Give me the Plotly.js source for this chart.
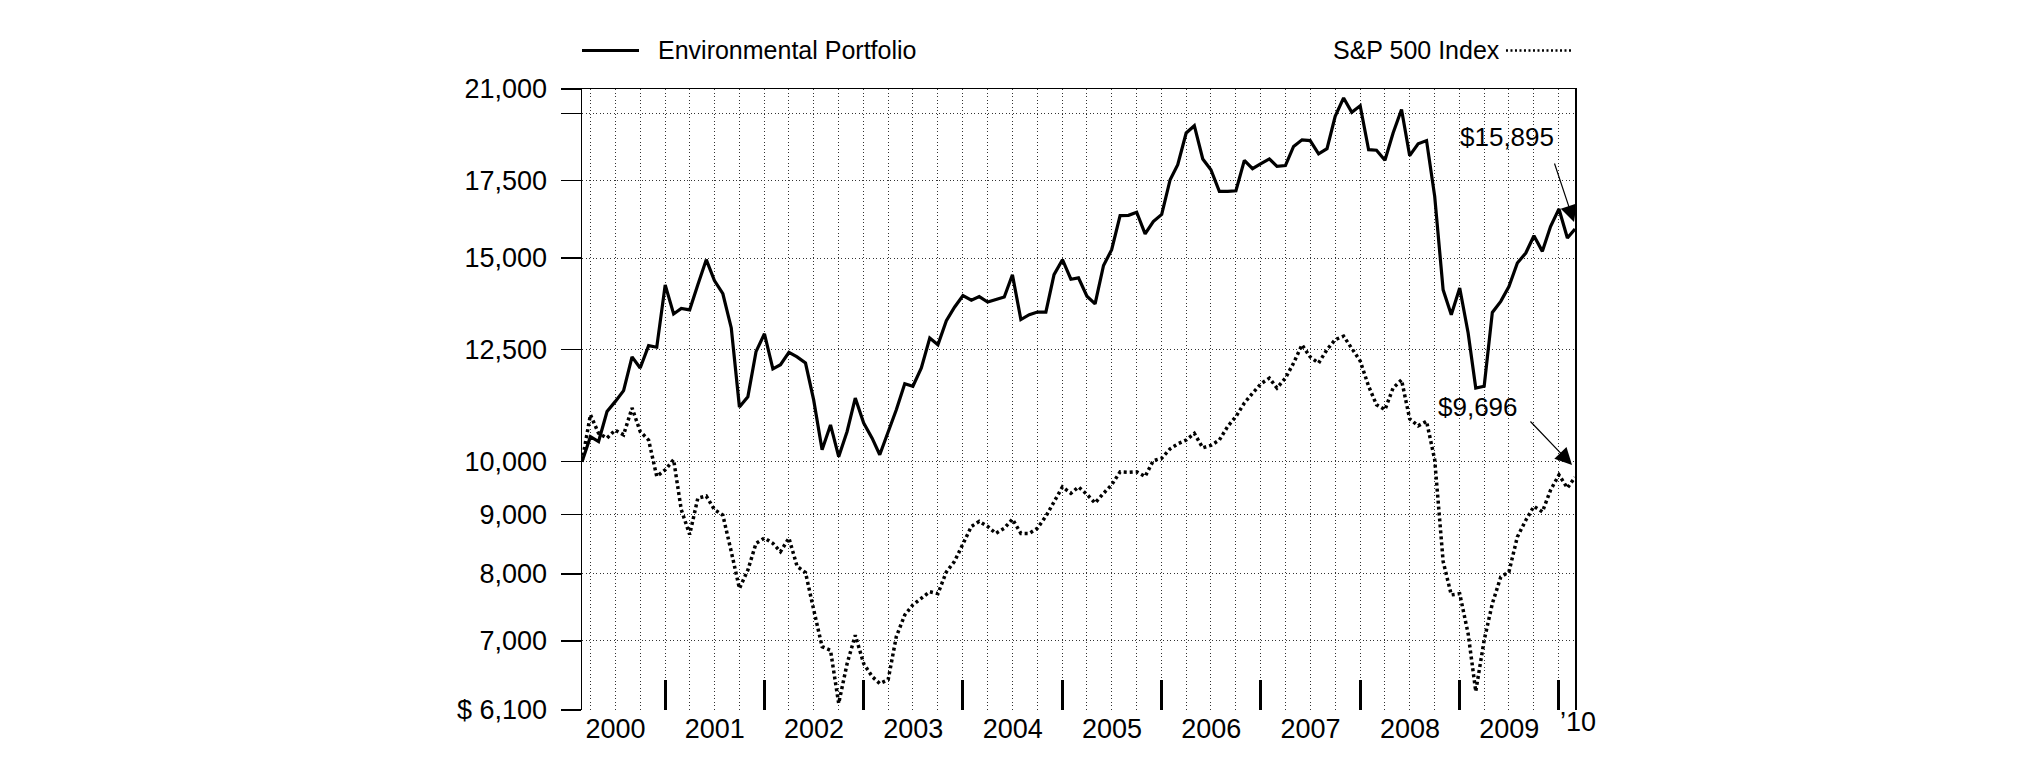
<!DOCTYPE html>
<html>
<head>
<meta charset="utf-8">
<script src="https://cdn.plot.ly/plotly-3.0.1.min.js"></script>
<style>
  html, body { margin: 0; padding: 0; background: #fff; }
  #chart { width: 2025px; height: 761px; }
</style>
</head>
<body>
<div id="chart"></div>
<script>
// ---- Data (monthly, end of Feb 2000 through end of Feb 2010) ----
const startYear = 2000;
const startMonth = 2; // February (month-end values)

const envPortfolio = [
  10000, 10510, 10410, 11050, 11270, 11520, 12320, 12050, 12600, 12560,
  14220, 13420, 13570, 13530, 14220, 14950, 14340, 13970, 13050, 11150,
  11380, 12450, 12900, 12030, 12130, 12430, 12320, 12170, 11310, 10240,
  10760, 10100, 10620, 11350, 10800, 10480, 10140, 10620, 11090, 11680,
  11620, 12050, 12790, 12620, 13240, 13600, 13920, 13790, 13890, 13740,
  13800, 13880, 14510, 13270, 13400, 13470, 13470, 14510, 14950, 14380,
  14420, 13900, 13690, 14780, 15250, 16320, 16330, 16430, 15740, 16130,
  16360, 17530, 18060, 19240, 19520, 18270, 17880, 17130, 17130, 17150,
  18220, 17920, 18100, 18270, 18000, 18030, 18730, 18980, 18950, 18460,
  18650, 19890, 20630, 20050, 20310, 18610, 18590, 18220, 19240, 20160,
  18390, 18830, 18950, 16960, 14080, 13400, 14130, 12920, 11580, 11620,
  13460, 13760, 14170, 14850, 15150, 15680, 15200, 15970, 16540, 15610,
  15895
];

const sp500Index = [
  10000, 10980, 10580, 10480, 10650, 10550, 11130, 10620, 10440, 9710,
  9840, 10040, 9090, 8650, 9300, 9340, 9090, 8990, 8360, 7770,
  8060, 8500, 8590, 8500, 8360, 8590, 8120, 8020, 7450, 6920,
  6870, 6180, 6690, 7080, 6690, 6520, 6430, 6480, 7060, 7370,
  7520, 7620, 7720, 7690, 8030, 8200, 8500, 8790, 8880, 8790,
  8670, 8760, 8920, 8670, 8670, 8760, 8970, 9240, 9510, 9390,
  9510, 9370, 9210, 9390, 9550, 9800, 9790, 9800, 9710, 10020,
  10070, 10260, 10360, 10440, 10580, 10280, 10330, 10440, 10730, 10940,
  11240, 11460, 11680, 11810, 11580, 11810, 12170, 12620, 12320, 12170,
  12500, 12750, 12840, 12530, 12220, 11620, 11200, 11090, 11580, 11770,
  10890, 10740, 10840, 10040, 8200, 7670, 7690, 7100, 6330, 7010,
  7540, 7950, 8030, 8610, 8900, 9150, 9050, 9450, 9740, 9490,
  9696
];

const yTickVals   = [6100, 7000, 8000, 9000, 10000, 12500, 15000, 17500, 20000, 21000];
const yTickText   = ['$ 6,100', '7,000', '8,000', '9,000', '10,000', '12,500', '15,000', '17,500', '', '21,000'];
const yGridVals   = [7000, 8000, 9000, 10000, 12500, 15000, 17500, 20000];
const yearLabels  = ['2000', '2001', '2002', '2003', '2004', '2005', '2006', '2007', '2008', '2009'];
const endLabel    = '\u201910';
const envLabel    = 'Environmental Portfolio';
const spLabel     = 'S&P 500 Index';
const envEndText  = '$15,895';
const spEndText   = '$9,696';

// ---- Dates ----
function pad(n) { return (n < 10 ? '0' : '') + n; }
function monthEnd(y, m0) { // m0: 0-based month
  const d = new Date(Date.UTC(y, m0 + 1, 0));
  return d.getUTCFullYear() + '-' + pad(d.getUTCMonth() + 1) + '-' + pad(d.getUTCDate());
}
const dates = envPortfolio.map((_, i) => {
  const idx = (startMonth - 1) + i;
  return monthEnd(startYear + Math.floor(idx / 12), idx % 12);
});
const xStart = dates[0];
const xEnd = dates[dates.length - 1];

const yearEnds = yearLabels.map(y => y + '-12-31');
const yearMids = yearLabels.map(y => y + '-07-01');
const quarterEnds = [];
yearLabels.forEach(y => { ['03-31', '06-30', '09-30', '12-31'].forEach(q => quarterEnds.push(y + '-' + q)); });

const yRange = [Math.log10(6100), Math.log10(21000)];
const FONT = 'Liberation Sans, Arial, Helvetica, sans-serif';

const traces = [
  // invisible carrier so the year-label axis (x3) gets drawn
  {
    x: dates, y: envPortfolio, type: 'scatter', mode: 'lines', xaxis: 'x3', yaxis: 'y',
    line: { color: 'rgba(0,0,0,0)', width: 0 }, opacity: 0, showlegend: false, hoverinfo: 'skip'
  },
  {
    x: dates, y: sp500Index, type: 'scatter', mode: 'lines', name: spLabel,
    line: { color: '#000', width: 3.5, dash: '3px,3px' }, xaxis: 'x2', yaxis: 'y2', showlegend: false, hoverinfo: 'skip'
  },
  {
    x: dates, y: envPortfolio, type: 'scatter', mode: 'lines', name: envLabel,
    line: { color: '#000', width: 3.2 }, xaxis: 'x', yaxis: 'y', showlegend: false, hoverinfo: 'skip'
  }
];

const layout = {
  width: 2025, height: 761,
  margin: { l: 582, r: 450, t: 89, b: 51, pad: 0 },
  paper_bgcolor: '#fff', plot_bgcolor: '#fff',
  font: { family: FONT, color: '#000', size: 26 },
  showlegend: false,
  xaxis: {
    type: 'date', range: [xStart, xEnd], fixedrange: true,
    tickmode: 'array', tickvals: yearEnds, ticks: 'inside', ticklen: 30, tickwidth: 3, tickcolor: '#000',
    showticklabels: false, showgrid: false, showline: false, zeroline: false
  },
  xaxis2: {
    type: 'date', range: [xStart, xEnd], overlaying: 'x', side: 'top', anchor: 'y2', fixedrange: true,
    tickmode: 'array', tickvals: quarterEnds, ticks: '', showticklabels: false,
    showgrid: true, gridcolor: '#333', gridwidth: 1, griddash: '1px,2.5px',
    showline: true, linecolor: '#000', linewidth: 1.5, zeroline: false
  },
  xaxis3: {
    type: 'date', range: [xStart, xEnd], overlaying: 'x', side: 'bottom', anchor: 'y', fixedrange: true,
    tickmode: 'array', tickvals: yearMids, ticktext: yearLabels, ticks: '',
    tickfont: { size: 27, family: FONT, color: '#000' },
    showgrid: false, showline: false, zeroline: false
  },
  yaxis: {
    type: 'log', range: yRange, fixedrange: true,
    tickmode: 'array', tickvals: yTickVals, ticktext: yTickText,
    ticks: 'outside', ticklen: 20, tickwidth: 1.5, tickcolor: '#000',
    ticklabelstandoff: 8,
    tickfont: { size: 27, family: FONT, color: '#000' },
    showline: true, mirror: true, linecolor: '#000', linewidth: 1.5,
    showgrid: false, zeroline: false
  },
  yaxis2: {
    type: 'log', range: yRange, overlaying: 'y', side: 'left', anchor: 'x2', fixedrange: true,
    tickmode: 'array', tickvals: yGridVals, ticks: '', showticklabels: false,
    showgrid: true, gridcolor: '#333', gridwidth: 1, griddash: '1px,2.5px',
    showline: false, zeroline: false
  },
  shapes: [
    { type: 'line', xref: 'paper', yref: 'paper', x0: 0, x1: 0.0574, y0: 1.062, y1: 1.062,
      line: { color: '#000', width: 3 } },
    { type: 'line', xref: 'paper', yref: 'paper', x0: 0.9305, x1: 0.997, y0: 1.062, y1: 1.062,
      line: { color: '#000', width: 2.5, dash: '2px,2.5px' } }
  ],
  annotations: [
    { text: envLabel, xref: 'paper', yref: 'paper', x: 0.0745, y: 1.062, xanchor: 'left', yanchor: 'middle',
      showarrow: false, font: { size: 25, family: FONT, color: '#000' } },
    { text: spLabel, xref: 'paper', yref: 'paper', x: 0.9265, y: 1.062, xanchor: 'right', yanchor: 'middle',
      showarrow: false, font: { size: 25, family: FONT, color: '#000' } },
    { text: endLabel, xref: 'paper', yref: 'paper', x: 1.003, y: -0.0193, xanchor: 'center', yanchor: 'middle',
      showarrow: false, font: { size: 27, family: FONT, color: '#000' } },
    { text: envEndText, xref: 'paper', yref: 'paper', x: 0.9315, y: 0.9227, xanchor: 'center', yanchor: 'middle',
      showarrow: false, font: { size: 26, family: FONT, color: '#000' } },
    { text: '', xref: 'paper', yref: 'paper', x: 0.999, y: 0.7858, ax: -20, ay: -60,
      showarrow: true, arrowhead: 2, arrowsize: 2.8, arrowwidth: 1.2, arrowcolor: '#000' },
    { text: spEndText, xref: 'paper', yref: 'paper', x: 0.9023, y: 0.488, xanchor: 'center', yanchor: 'middle',
      showarrow: false, font: { size: 26, family: FONT, color: '#000' } },
    { text: '', xref: 'paper', yref: 'paper', x: 0.997, y: 0.3945, ax: -43, ay: -45,
      showarrow: true, arrowhead: 2, arrowsize: 2.8, arrowwidth: 1.2, arrowcolor: '#000' }
  ]
};

Plotly.newPlot('chart', traces, layout, { staticPlot: true, displayModeBar: false });
</script>
</body>
</html>
